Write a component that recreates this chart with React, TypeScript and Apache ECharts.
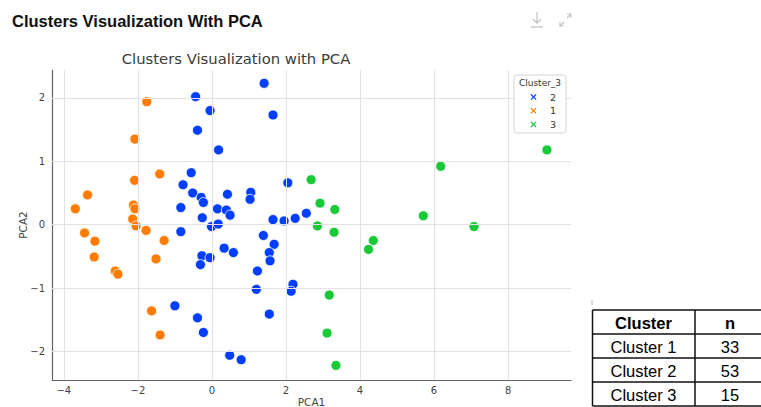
import React, { useEffect, useRef } from "react";
import * as echarts from "echarts";

const pageTitle = "Clusters Visualization With PCA";
const chartTitle = "Clusters Visualization with PCA";
const xAxisName = "PCA1";
const yAxisName = "PCA2";
const legendTitle = "Cluster_3";
const seriesNames = ["2", "1", "3"];
const seriesColors = ["#023eff", "#ff7c00", "#1ac938"];

// grid / tick positions
const xTicks = [-4, -2, 0, 2, 4, 6, 8];
const yTicks = [-2, -1, 0, 1, 2];

// Cluster "2" (blue)
const blueX = [1.41, -0.44, -0.05, 1.65, -0.39, 0.18, -0.56, -0.78, 2.05, -0.52, -0.29, -0.23, 0.42, 1.05, 1.03, -0.84, 0.15, 0.39, 0.49, -0.26, 1.65, 1.95, 2.25, 2.55, -0.01, 0.17, -0.84, 1.39, 1.68, 0.33, 0.58, 1.55, -0.27, -0.05, 1.57, -0.31, 1.23, 2.19, 2.14, 1.2, -1.0, -0.39, 1.55, -0.23, 0.48, 0.79];
const blueY = [2.23, 2.02, 1.8, 1.73, 1.49, 1.18, 0.82, 0.63, 0.66, 0.5, 0.43, 0.35, 0.48, 0.51, 0.4, 0.27, 0.25, 0.23, 0.15, 0.11, 0.08, 0.06, 0.1, 0.18, -0.03, 0.01, -0.11, -0.17, -0.31, -0.37, -0.44, -0.44, -0.49, -0.52, -0.57, -0.63, -0.73, -0.94, -1.05, -1.02, -1.28, -1.47, -1.41, -1.7, -2.06, -2.13];

// Cluster "1" (orange)
const orangeX = [-1.76, -2.08, -2.09, -1.41, -3.36, -3.69, -2.12, -2.08, -2.14, -2.05, -1.78, -3.44, -3.16, -1.29, -3.18, -1.51, -2.61, -2.54, -1.63, -1.4];
const orangeY = [1.94, 1.35, 0.7, 0.8, 0.47, 0.25, 0.31, 0.25, 0.09, -0.02, -0.09, -0.13, -0.26, -0.25, -0.51, -0.54, -0.73, -0.78, -1.36, -1.74];

// Cluster "3" (green)
const greenX = [2.68, 2.92, 3.32, 2.85, 3.3, 4.36, 4.23, 9.05, 6.18, 5.71, 7.08, 3.17, 3.11, 3.35];
const greenY = [0.71, 0.34, 0.24, -0.02, -0.12, -0.25, -0.39, 1.18, 0.92, 0.14, -0.03, -1.11, -1.71, -2.22];

const tableHeader = ["Cluster", "n"];
const tableClusters = ["Cluster 1", "Cluster 2", "Cluster 3"];
const tableCounts = [33, 53, 15];

const clusterXs = [blueX, orangeX, greenX];
const clusterYs = [blueY, orangeY, greenY];

const minus = (v: number) => (v < 0 ? "\u2212" + Math.abs(v) : String(v));

export default function App() {
  const ref = useRef<HTMLDivElement>(null);
  useEffect(() => {
    if (!ref.current) return;
    const chart = echarts.init(ref.current, undefined, { renderer: "svg" });
    const font = "DejaVu Sans";
    const gridSeries = {
      name: "grid",
      type: "scatter",
      data: [],
      z: 1,
      silent: true,
      markLine: {
        silent: true,
        symbol: "none",
        animation: false,
        label: { show: false },
        lineStyle: { color: "#e2e2e2", type: "solid", width: 1 },
        data: [...xTicks.map((v) => ({ xAxis: v })), ...yTicks.map((v) => ({ yAxis: v }))],
      },
    };
    const series: any[] = [gridSeries].concat(
      seriesNames.map((name, i) => ({
        name,
        type: "scatter",
        symbol: "circle",
        symbolSize: 10,
        z: 3,
        itemStyle: { color: seriesColors[i], borderColor: "#ffffff", borderWidth: 0.8, opacity: 1 },
        data: clusterXs[i].map((x, j) => [x, clusterYs[i][j]]),
      })) as any
    );

    const graphics: any[] = [];
    // page header
    graphics.push({
      type: "text", left: 12, top: 12,
      style: { text: pageTitle, font: "bold 16.5px 'Liberation Sans', Arial, sans-serif", fill: "#111" },
    });
    // icons
    const ic = "#c4c4c4";
    graphics.push({ type: "line", shape: { x1: 537, y1: 12, x2: 537, y2: 23 }, style: { stroke: ic, lineWidth: 1.3 } });
    graphics.push({ type: "polyline", shape: { points: [[533, 19], [537, 23], [541, 19]] }, style: { stroke: ic, fill: "none", lineWidth: 1.3 } });
    graphics.push({ type: "line", shape: { x1: 531, y1: 27, x2: 543, y2: 27 }, style: { stroke: ic, lineWidth: 1.3 } });
    graphics.push({ type: "polyline", shape: { points: [[567, 14], [571, 14], [571, 18]] }, style: { stroke: ic, fill: "none", lineWidth: 1.2 } });
    graphics.push({ type: "line", shape: { x1: 571, y1: 14, x2: 567, y2: 18 }, style: { stroke: ic, lineWidth: 1.2 } });
    graphics.push({ type: "polyline", shape: { points: [[560, 22], [560, 26], [564, 26]] }, style: { stroke: ic, fill: "none", lineWidth: 1.2 } });
    graphics.push({ type: "line", shape: { x1: 560, y1: 26, x2: 564, y2: 22 }, style: { stroke: ic, lineWidth: 1.2 } });

    // legend
    graphics.push({ type: "rect", shape: { x: 514, y: 75, width: 52, height: 58, r: 3 }, style: { fill: "#fff", stroke: "#d4d4d4", lineWidth: 1 }, z: 10 });
    graphics.push({ type: "text", x: 540, y: 83, z: 11, style: { text: legendTitle, fontFamily: font, fontSize: 9, fill: "#333", align: "center", verticalAlign: "middle" } });
    seriesNames.forEach((n, i) => {
      const cy = 97 + i * 13.7;
      const cx = 533.5;
      const d = 2.6;
      graphics.push({ type: "line", z: 11, shape: { x1: cx - d, y1: cy - d, x2: cx + d, y2: cy + d }, style: { stroke: seriesColors[i], lineWidth: 1.2 } });
      graphics.push({ type: "line", z: 11, shape: { x1: cx - d, y1: cy + d, x2: cx + d, y2: cy - d }, style: { stroke: seriesColors[i], lineWidth: 1.2 } });
      graphics.push({ type: "text", x: 550, y: cy, z: 11, style: { text: n, fontFamily: font, fontSize: 9.5, fill: "#333", verticalAlign: "middle" } });
    });

    // table
    const tL = 592.5, tM = 695, tR = 766;
    const rowsY = [310, 334, 358, 382, 406];
    const tc = "#111";
    graphics.push({ type: "line", shape: { x1: 592, y1: 300, x2: 592, y2: 305 }, style: { stroke: "#bbb", lineWidth: 1 } });
    rowsY.forEach((y) => graphics.push({ type: "line", shape: { x1: tL, y1: y, x2: tR, y2: y }, style: { stroke: tc, lineWidth: 1.5 } }));
    [tL, tM].forEach((x) => graphics.push({ type: "line", shape: { x1: x, y1: rowsY[0], x2: x, y2: rowsY[rowsY.length - 1] }, style: { stroke: tc, lineWidth: 1.5 } }));
    const c1 = 643.5, c2 = 730;
    const tf = "'Liberation Sans', Arial, sans-serif";
    graphics.push({ type: "text", x: c1, y: (rowsY[0] + rowsY[1]) / 2 + 1, style: { text: tableHeader[0], font: `bold 16.5px ${tf}`, fill: "#000", align: "center", verticalAlign: "middle" } });
    graphics.push({ type: "text", x: c2, y: (rowsY[0] + rowsY[1]) / 2 + 1, style: { text: tableHeader[1], font: `bold 16.5px ${tf}`, fill: "#000", align: "center", verticalAlign: "middle" } });
    tableClusters.forEach((c, i) => {
      const cy = (rowsY[i + 1] + rowsY[i + 2]) / 2 + 1;
      graphics.push({ type: "text", x: c1, y: cy, style: { text: c, font: `16.5px ${tf}`, fill: "#000", align: "center", verticalAlign: "middle" } });
      graphics.push({ type: "text", x: c2, y: cy, style: { text: String(tableCounts[i]), font: `16.5px ${tf}`, fill: "#000", align: "center", verticalAlign: "middle" } });
    });

    chart.setOption({
      animation: false,
      backgroundColor: "#ffffff",
      title: {
        text: chartTitle,
        left: 231,
        top: 46,
        textAlign: "center",
        textStyle: { fontFamily: font, fontSize: 14.8, fontWeight: "normal", color: "#3a3a3a" },
      },
      grid: { left: 52, top: 70, width: 519, height: 310, containLabel: false, outerBoundsMode: "none" },
      xAxis: {
        type: "value",
        min: -4.32,
        max: 9.7,
        splitNumber: 7,
        name: xAxisName,
        nameLocation: "middle",
        nameGap: 16,
        nameMoveOverlap: false,
        nameTextStyle: { fontFamily: font, fontSize: 10.5, color: "#444" },
        axisLine: { show: true, onZero: false, lineStyle: { color: "#666", width: 1.2 } },
        axisTick: { show: false },
        axisLabel: { showMinLabel: false, showMaxLabel: false, formatter: minus, fontFamily: font, fontSize: 10, color: "#444", margin: 5 },
        splitLine: { show: false },
      },
      yAxis: {
        type: "value",
        min: -2.45,
        max: 2.44,
        splitNumber: 5,
        name: yAxisName,
        nameLocation: "middle",
        nameGap: 24,
        nameMoveOverlap: false,
        nameTextStyle: { fontFamily: font, fontSize: 10.5, color: "#444" },
        axisLine: { show: true, onZero: false, lineStyle: { color: "#666", width: 1.2 } },
        axisTick: { show: false },
        axisLabel: { showMinLabel: false, showMaxLabel: false, formatter: minus, fontFamily: font, fontSize: 10, color: "#444", margin: 7 },
        splitLine: { show: false },
      },
      series,
      graphic: graphics,
    });
    return () => chart.dispose();
  }, []);
  return <div ref={ref} style={{ position: "absolute", left: 0, top: 0, width: 761, height: 407 }} />;
}
